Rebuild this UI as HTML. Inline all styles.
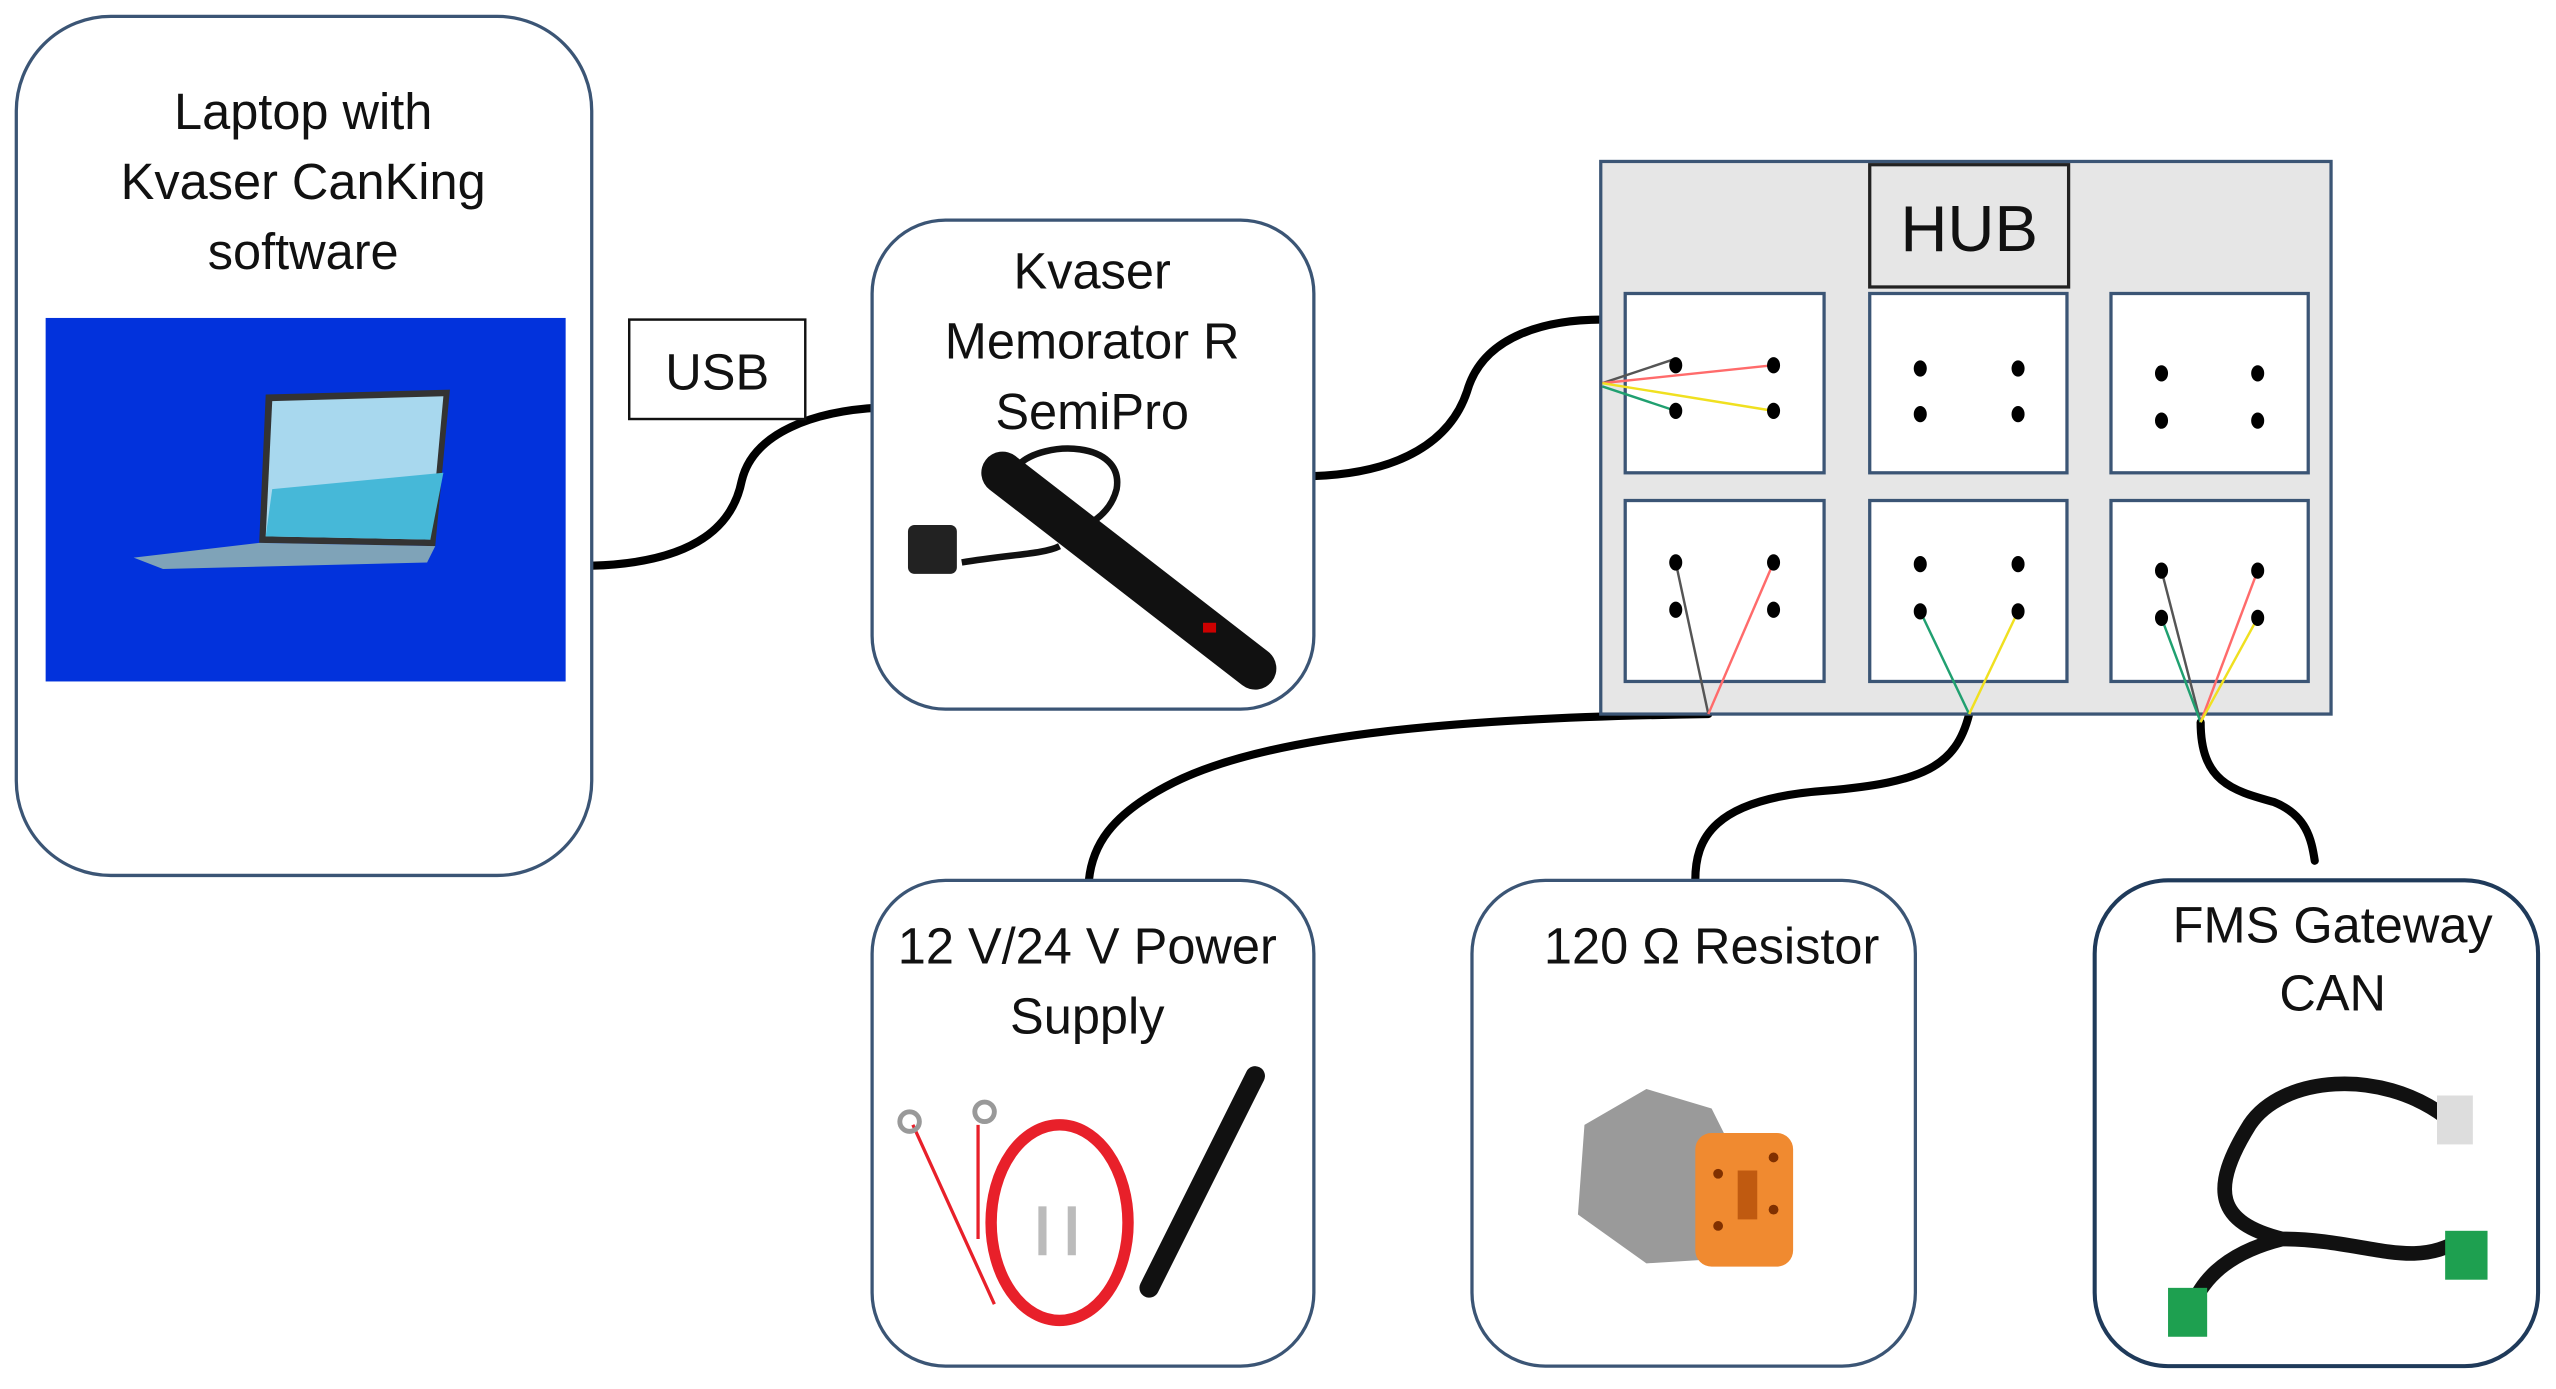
<!DOCTYPE html>
<html><head><meta charset="utf-8"><style>
html,body{margin:0;padding:0;background:#fff;width:2556px;height:1389px;overflow:hidden}
svg{display:block}
text{font-family:"Liberation Sans",sans-serif;fill:#111;text-anchor:middle}
</style></head><body>
<svg width="2556" height="1389" viewBox="0 0 1568 852" xmlns="http://www.w3.org/2000/svg">
<!-- cables -->
<g fill="none" stroke="#000" stroke-width="5" stroke-linecap="round">
<path d="M363,347 C430,345 450,320 455,295 C462,265 500,252 540,250"/>
<path d="M806,292 C860,290 890,270 900,240 C910,205 950,196 983,196"/>
<path d="M1048,438 C900,440 780,450 720,480 C680,500 670,520 668,540"/>
<path d="M1208,438 C1200,470 1180,480 1120,485 C1050,490 1040,515 1040,540"/>
<path d="M1350,443 C1350,480 1370,485 1395,492 C1415,500 1418,515 1420,528"/>
</g>
<!-- laptop box -->
<rect x="10" y="10" width="353" height="527" rx="58" fill="#fff" stroke="#3b5575" stroke-width="2"/>
<text x="186" y="79" font-size="31">Laptop with</text>
<text x="186" y="122" font-size="31">Kvaser CanKing</text>
<text x="186" y="165" font-size="31">software</text>
<rect x="28" y="195" width="319" height="223" fill="#0232dc"/>
<polygon points="163,242 276,239 267,335 159,333" fill="#333"/>
<polygon points="167,246 272,243 264,331 163,329" fill="#a8d8ee"/>
<polygon points="167,300 272,290 264,331 163,329" fill="#46b8d8"/>
<polygon points="82,342 159,333 267,335 262,345 100,349" fill="#7fa3b8"/>
<!-- USB -->
<rect x="386" y="196" width="108" height="61" fill="#fff" stroke="#111" stroke-width="1.5"/>
<text x="440" y="239" font-size="31">USB</text>
<!-- Kvaser box -->
<rect x="535" y="135" width="271" height="300" rx="45" fill="#fff" stroke="#3b5575" stroke-width="2"/>
<text x="670" y="177" font-size="31">Kvaser</text>
<text x="670" y="220" font-size="31">Memorator R</text>
<text x="670" y="263" font-size="31">SemiPro</text>
<path d="M625,285 C640,270 690,270 685,300 C680,320 660,325 650,330" fill="none" stroke="#111" stroke-width="4"/>
<path d="M590,345 C620,340 640,340 650,335" fill="none" stroke="#111" stroke-width="4"/>
<rect x="557" y="322" width="30" height="30" rx="4" fill="#222"/>
<line x1="615" y1="290" x2="770" y2="410" stroke="#111" stroke-width="26" stroke-linecap="round"/>
<rect x="738" y="382" width="8" height="6" fill="#c00"/>
<!-- HUB -->
<rect x="982" y="99" width="448" height="339" fill="#e6e6e6" stroke="#3b5575" stroke-width="2"/>
<rect x="1147" y="101" width="122" height="75" fill="#e6e6e6" stroke="#222" stroke-width="2"/>
<text x="1208" y="154" font-size="40">HUB</text>
<g fill="#fff" stroke="#3b5575" stroke-width="2">
<rect x="997" y="180" width="122" height="110"/><rect x="1147" y="180" width="121" height="110"/><rect x="1295" y="180" width="121" height="110"/>
<rect x="997" y="307" width="122" height="111"/><rect x="1147" y="307" width="121" height="111"/><rect x="1295" y="307" width="121" height="111"/>
</g>
<g stroke-width="1.5">
<line x1="983" y1="235" x2="1028" y2="220" stroke="#555"/>
<line x1="983" y1="235" x2="1088" y2="224" stroke="#ff6b6b"/>
<line x1="983" y1="235" x2="1088" y2="252" stroke="#f0e020"/>
<line x1="983" y1="237" x2="1028" y2="252" stroke="#20a070"/>
<line x1="1048" y1="438" x2="1028" y2="345" stroke="#555"/>
<line x1="1048" y1="438" x2="1088" y2="345" stroke="#ff6b6b"/>
<line x1="1208" y1="438" x2="1178" y2="375" stroke="#20a070"/>
<line x1="1208" y1="438" x2="1238" y2="375" stroke="#f0e020"/>
<line x1="1350" y1="443" x2="1326" y2="350" stroke="#555"/>
<line x1="1350" y1="443" x2="1326" y2="379" stroke="#20a070"/>
<line x1="1350" y1="443" x2="1385" y2="350" stroke="#ff6b6b"/>
<line x1="1350" y1="443" x2="1385" y2="379" stroke="#f0e020"/>
</g>
<g fill="#000">
<ellipse cx="1028" cy="224" rx="4" ry="5"/><ellipse cx="1088" cy="224" rx="4" ry="5"/><ellipse cx="1028" cy="252" rx="4" ry="5"/><ellipse cx="1088" cy="252" rx="4" ry="5"/>
<ellipse cx="1178" cy="226" rx="4" ry="5"/><ellipse cx="1238" cy="226" rx="4" ry="5"/><ellipse cx="1178" cy="254" rx="4" ry="5"/><ellipse cx="1238" cy="254" rx="4" ry="5"/>
<ellipse cx="1326" cy="229" rx="4" ry="5"/><ellipse cx="1385" cy="229" rx="4" ry="5"/><ellipse cx="1326" cy="258" rx="4" ry="5"/><ellipse cx="1385" cy="258" rx="4" ry="5"/>
<ellipse cx="1028" cy="345" rx="4" ry="5"/><ellipse cx="1088" cy="345" rx="4" ry="5"/><ellipse cx="1028" cy="374" rx="4" ry="5"/><ellipse cx="1088" cy="374" rx="4" ry="5"/>
<ellipse cx="1178" cy="346" rx="4" ry="5"/><ellipse cx="1238" cy="346" rx="4" ry="5"/><ellipse cx="1178" cy="375" rx="4" ry="5"/><ellipse cx="1238" cy="375" rx="4" ry="5"/>
<ellipse cx="1326" cy="350" rx="4" ry="5"/><ellipse cx="1385" cy="350" rx="4" ry="5"/><ellipse cx="1326" cy="379" rx="4" ry="5"/><ellipse cx="1385" cy="379" rx="4" ry="5"/>
</g>
<!-- bottom boxes -->
<rect x="535" y="540" width="271" height="298" rx="45" fill="#fff" stroke="#3b5575" stroke-width="2"/>
<text x="667" y="591" font-size="31">12 V/24 V Power</text>
<text x="667" y="634" font-size="31">Supply</text>
<ellipse cx="650" cy="750" rx="42" ry="60" fill="none" stroke="#e8202a" stroke-width="7"/>
<path d="M560,690 L610,800 M600,690 L600,760" stroke="#e8202a" stroke-width="2" fill="none"/>
<circle cx="558" cy="688" r="6" fill="none" stroke="#999" stroke-width="3"/>
<circle cx="604" cy="682" r="6" fill="none" stroke="#999" stroke-width="3"/>
<line x1="770" y1="660" x2="705" y2="790" stroke="#111" stroke-width="12" stroke-linecap="round"/>
<rect x="637" y="740" width="5" height="30" fill="#bbb"/><rect x="655" y="740" width="5" height="30" fill="#bbb"/>
<rect x="903" y="540" width="272" height="298" rx="45" fill="#fff" stroke="#3b5575" stroke-width="2"/>
<text x="1050" y="591" font-size="31">120 Ω Resistor</text>
<path d="M972,690 L1010,668 L1050,680 L1060,700 L1090,700 L1090,770 L1010,775 L968,745 Z" fill="#9a9a9a"/>
<rect x="1040" y="695" width="60" height="82" rx="10" fill="#f08a30"/>
<rect x="1066" y="718" width="12" height="30" fill="#c05a10"/>
<circle cx="1054" cy="720" r="3" fill="#803000"/><circle cx="1088" cy="710" r="3" fill="#803000"/><circle cx="1054" cy="752" r="3" fill="#803000"/><circle cx="1088" cy="742" r="3" fill="#803000"/>
<rect x="1285" y="540" width="272" height="298" rx="45" fill="#fff" stroke="#1f3a5a" stroke-width="2.5"/>
<text x="1431" y="578" font-size="31">FMS Gateway</text>
<text x="1431" y="620" font-size="31">CAN</text>
<path d="M1500,685 C1460,655 1400,660 1380,690 C1355,730 1360,750 1400,760 C1360,770 1350,790 1345,800 M1400,760 C1450,760 1480,780 1510,760" fill="none" stroke="#111" stroke-width="9"/>
<rect x="1495" y="672" width="22" height="30" fill="#ddd"/>
<rect x="1500" y="755" width="26" height="30" fill="#1ea050"/>
<rect x="1330" y="790" width="24" height="30" fill="#1ea050"/>
</svg>
</body></html>
